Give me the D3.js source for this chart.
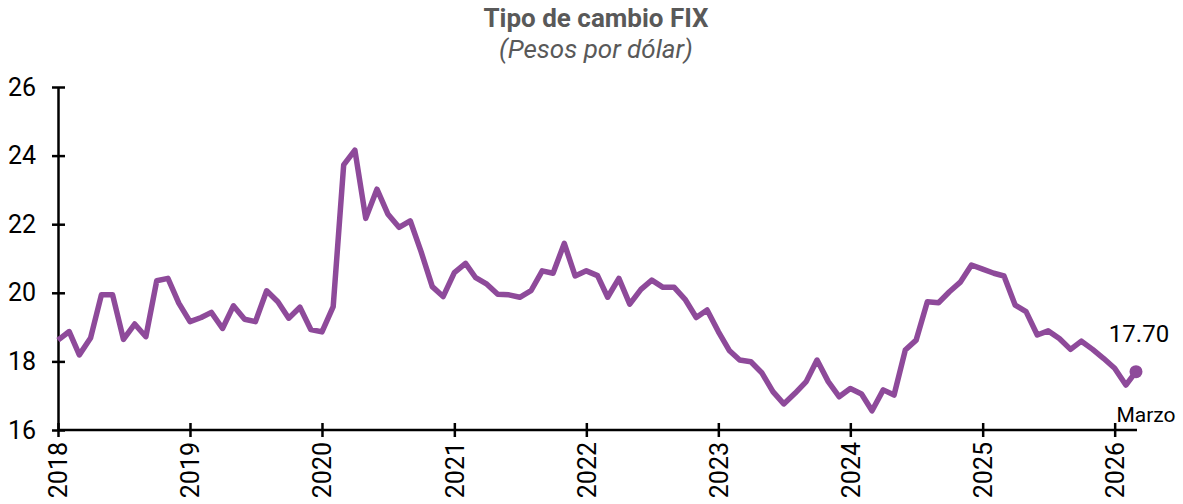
<!DOCTYPE html>
<html lang="es">
<head>
    <meta charset="UTF-8">
    <title>Tipo de cambio FIX</title>
    <script src="https://d3js.org/d3.v7.min.js"></script>
    <style>
        body { margin: 0; background: #fff; }
        text { font-family: Roboto, "Noto Sans", sans-serif; }
    </style>
</head>
<body>
<script>
    // monthly FIX, Jan 2018 .. Mar 2026
    var startMonth = "2018-01-01";
    var fixValues = [
        18.62, 18.87, 18.19, 18.68, 19.94, 19.94, 18.64, 19.09, 18.72, 20.35, 20.42, 19.70,
        19.16, 19.28, 19.43, 18.96, 19.62, 19.23, 19.16, 20.06, 19.74, 19.26, 19.58, 18.93,
        18.86, 19.60, 23.73, 24.16, 22.17, 23.02, 22.30, 21.91, 22.10, 21.20, 20.18, 19.89,
        20.59, 20.86, 20.44, 20.25, 19.96, 19.94, 19.87, 20.06, 20.64, 20.57, 21.44, 20.49,
        20.64, 20.50, 19.87, 20.42, 19.67, 20.10, 20.37, 20.16, 20.16, 19.81, 19.28, 19.50,
        18.87, 18.31, 18.04, 17.99, 17.67, 17.12, 16.76, 17.07, 17.41, 18.04, 17.41, 16.97,
        17.21, 17.05, 16.56, 17.17, 17.02, 18.33, 18.62, 19.74, 19.71, 20.03, 20.32, 20.81,
        20.69, 20.57, 20.49, 19.64, 19.45, 18.77, 18.89, 18.67, 18.35, 18.59, 18.35, 18.09,
        17.80, 17.31, 17.70
    ];
    var yTicks = [16, 18, 20, 22, 24, 26];
    var lastLabel = "17.70";
    var lastMonthName = "Marzo";

    var w = 1183, h = 504;
    var mLeft = 58, mRight = 1136, mTop = 87, mBottom = 430;
    var purple = "#8e4a9a";

    var parse = d3.timeParse("%Y-%m-%d");
    var t0 = parse(startMonth);
    var data = fixValues.map(function(v, i) {
        return { date: d3.timeMonth.offset(t0, i), value: v };
    });

    var x = d3.scaleTime()
        .domain([data[0].date, data[data.length - 1].date])
        .range([mLeft, mRight]);
    var y = d3.scaleLinear()
        .domain([16, 26])
        .range([mBottom, mTop]);

    var svg = d3.select("body").append("svg")
        .attr("width", w)
        .attr("height", h);

    // title
    svg.append("text")
        .attr("x", 596).attr("y", 27)
        .attr("text-anchor", "middle")
        .style("font-size", "26px").style("font-weight", "bold")
        .style("fill", "#595959")
        .text("Tipo de cambio FIX");
    svg.append("text")
        .attr("x", 596).attr("y", 58)
        .attr("text-anchor", "middle")
        .style("font-size", "26px").style("font-style", "italic")
        .style("fill", "#595959")
        .text("(Pesos por dólar)");

    // y axis
    var yAxis = svg.append("g")
        .attr("transform", "translate(" + mLeft + ",0)")
        .call(d3.axisLeft(y).tickValues(yTicks).tickSize(6).tickPadding(16).tickSizeOuter(0));
    yAxis.selectAll(".tick line").attr("x2", -6).attr("x1", 7).attr("stroke-width", 2.5);
    yAxis.selectAll(".domain").attr("stroke-width", 2.5);
    yAxis.selectAll("text").style("font-size", "25px").style("fill", "#000");

    // x axis
    var xAxis = svg.append("g")
        .attr("transform", "translate(0," + mBottom + ")")
        .call(d3.axisBottom(x).ticks(d3.timeYear.every(1)).tickFormat(d3.timeFormat("%Y")).tickSize(7).tickSizeOuter(0));
    xAxis.selectAll(".domain").attr("d", "M" + mLeft + ",0H" + (mRight + 1)).attr("stroke-width", 2.5);
    xAxis.selectAll(".tick line").attr("y1", -7).attr("y2", 7).attr("stroke-width", 2.5);
    xAxis.selectAll("text")
        .style("font-size", "25px").style("fill", "#000")
        .attr("text-anchor", "end")
        .attr("transform", "rotate(-90)")
        .attr("x", -12).attr("y", 0).attr("dy", "0.35em");

    // line
    var line = d3.line()
        .x(function(d) { return x(d.date); })
        .y(function(d) { return y(d.value); });
    svg.append("path")
        .datum(data)
        .attr("fill", "none")
        .attr("stroke", purple)
        .attr("stroke-width", 5.5)
        .attr("stroke-linejoin", "round")
        .attr("d", line);

    var last = data[data.length - 1];
    svg.append("circle")
        .attr("cx", x(last.date)).attr("cy", y(last.value))
        .attr("r", 6.5)
        .attr("fill", purple);

    svg.append("text")
        .attr("x", x(last.date)+3).attr("y", y(last.value) - 30)
        .attr("text-anchor", "middle")
        .style("font-size", "24px").style("fill", "#000")
        .text(lastLabel);
    svg.append("text")
        .attr("x", x(last.date) + 10).attr("y", mBottom - 8)
        .attr("text-anchor", "middle")
        .style("font-size", "21px").style("fill", "#000")
        .text(lastMonthName);
</script>
</body>
</html>
